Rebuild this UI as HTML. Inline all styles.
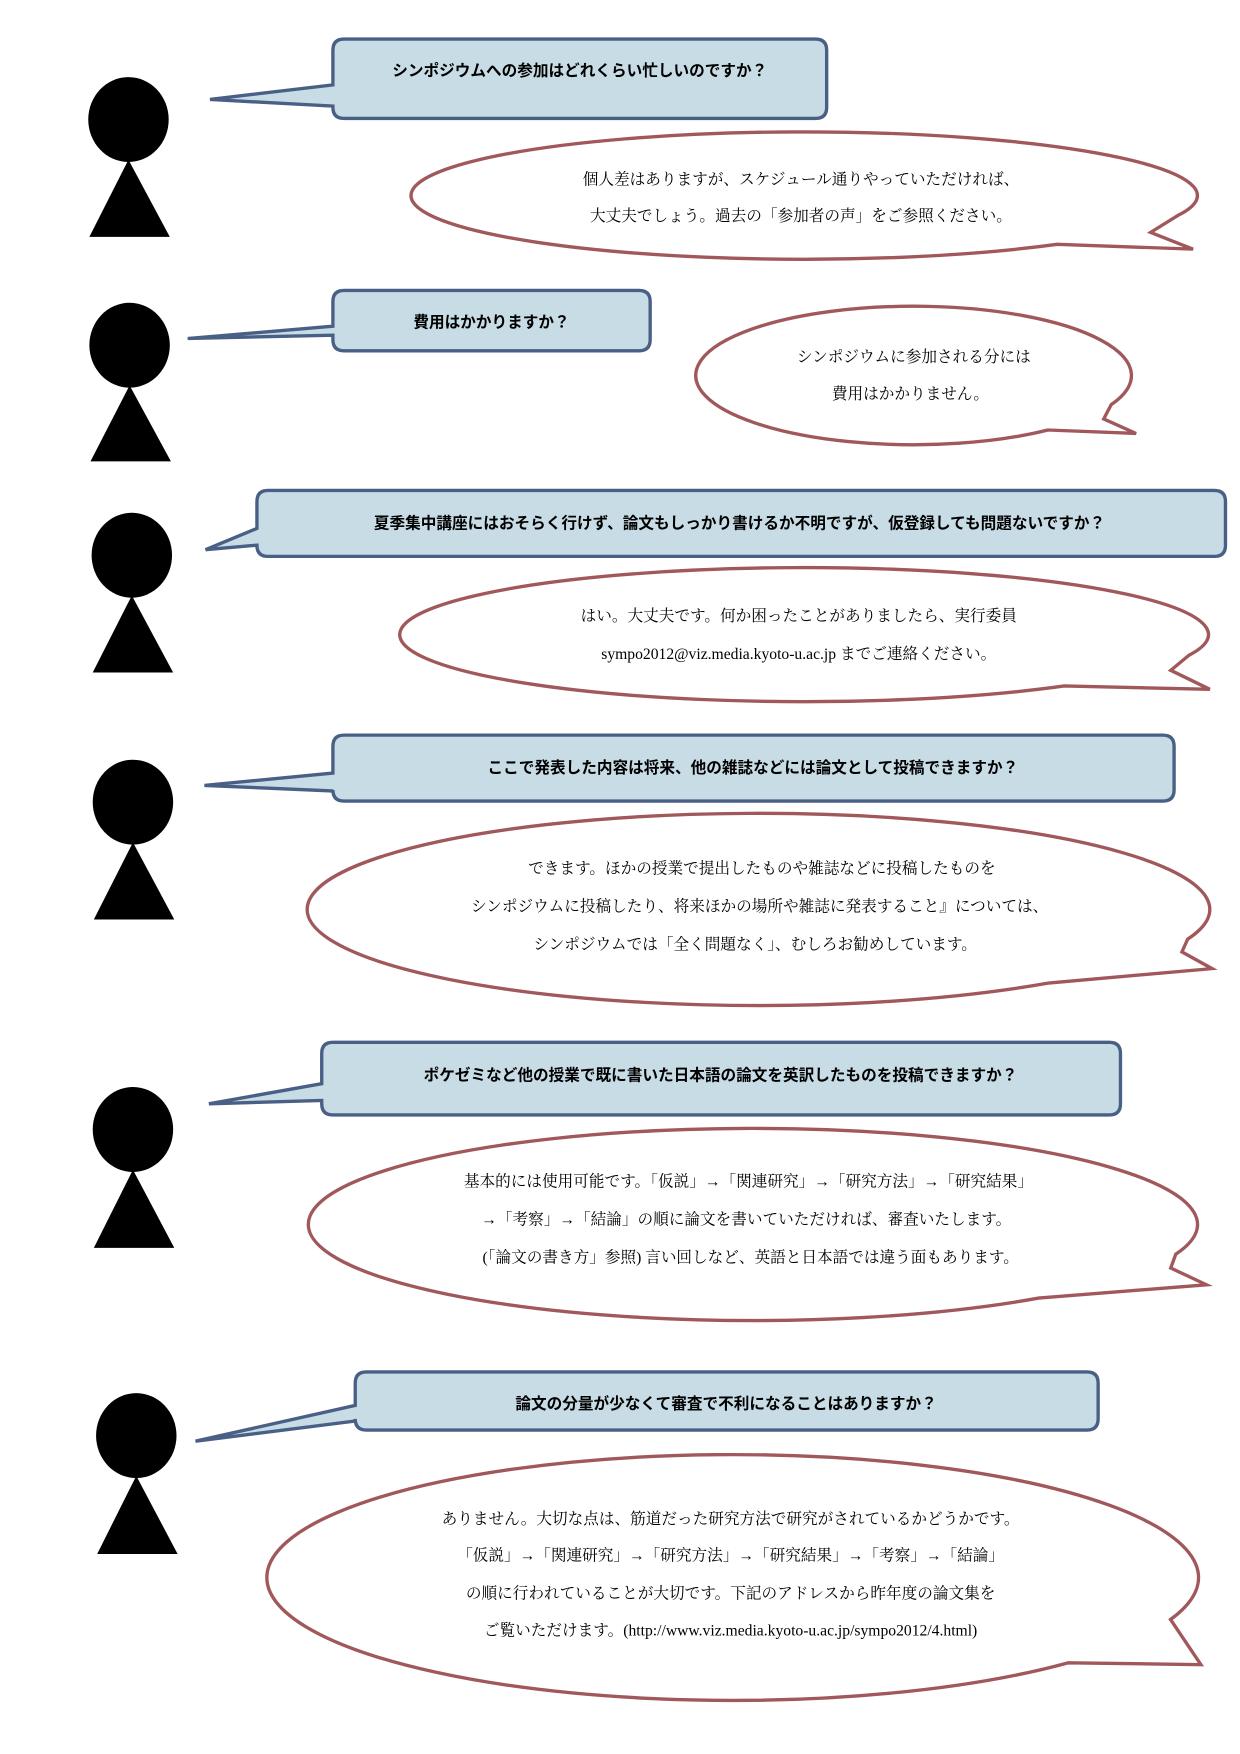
<!DOCTYPE html>
<html><head><meta charset="utf-8"><style>
html,body{margin:0;padding:0;background:#fff;}
svg{display:block;}
.q{font-family:"Liberation Sans","Noto Sans CJK JP",sans-serif;font-weight:bold;font-size:14px;fill:#000;text-anchor:middle;}
.a{font-family:"Liberation Serif","Noto Serif CJK SC",serif;font-size:14px;fill:#000;text-anchor:middle;}
.box{fill:#c8dce6;stroke:#4a5f85;stroke-width:3;}
.ell{fill:#fff;stroke:#a0585a;stroke-width:3;stroke-linejoin:miter;}
</style></head><body>
<svg width="1240" height="1754" viewBox="0 0 1110 1570" preserveAspectRatio="none" xmlns="http://www.w3.org/2000/svg">
<g fill="#000">
<ellipse cx="115" cy="107" rx="36" ry="38"/><polygon points="115,143 80,212 152,212"/>
<ellipse cx="116" cy="309" rx="36" ry="38"/><polygon points="116,345 81,413 153,413"/>
<ellipse cx="118" cy="497" rx="36" ry="38"/><polygon points="118,533 83,602 155,602"/>
<ellipse cx="119" cy="718" rx="36" ry="38"/><polygon points="119,754 84,823 156,823"/>
<ellipse cx="119" cy="1011" rx="36" ry="38"/><polygon points="119,1047 84,1117 156,1117"/>
<ellipse cx="122" cy="1285" rx="36" ry="38"/><polygon points="122,1321 87,1391 159,1391"/>
</g>

<path class="box" d="M308,35 H730 Q740,35 740,45 V96 Q740,106 730,106 H308 Q298,106 298,96 V95 L188,89 L298,76 V45 Q298,35 308,35 Z"/>
<text class="q" x="519" y="68">シンポジウムへの参加はどれくらい忙しいのですか？</text>
<path class="ell" d="M1054.8,192.6 L1030,208 L1068,223 L946.3,218.7 A352 57 0 1 1 1054.8,192.6 Z"/>
<text class="a" x="717" y="165">個人差はありますが、スケジュール通りやっていただければ、</text>
<text class="a" x="717" y="198">大丈夫でしょう。過去の「参加者の声」をご参照ください。</text>

<path class="box" d="M308,260 H572 Q582,260 582,270 V304 Q582,314 572,314 H308 Q298,314 298,304 V300 L168,303 L298,292 V270 Q298,260 308,260 Z"/>
<text class="q" x="440" y="293">費用はかかりますか？</text>
<path class="ell" d="M994.7,362.2 L988,375 L1017,388 L938.1,384.9 A195 62 0 1 1 994.7,362.2 Z"/>
<text class="a" x="818" y="324">シンポジウムに参加される分には</text>
<text class="a" x="815" y="357">費用はかかりません。</text>

<path class="box" d="M240,439 H1087 Q1097,439 1097,449 V488 Q1097,498 1087,498 H240 Q230,498 230,488 L184,492 L230,473 V449 Q230,439 240,439 Z"/>
<text class="q" x="662" y="473">夏季集中講座にはおそらく行けず、論文もしっかり書けるか不明ですが、仮登録しても問題ないですか？</text>
<path class="ell" d="M1064.3,586.5 L1048,600 L1083,617 L952.7,614 A362 60 0 1 1 1064.3,586.5 Z"/>
<text class="a" x="715" y="556">はい。大丈夫です。何か困ったことがありましたら、実行委員</text>
<text class="a" x="715" y="590">sympo2012@viz.media.kyoto-u.ac.jp までご連絡ください。</text>

<path class="box" d="M308,658 H1041 Q1051,658 1051,668 V707 Q1051,717 1041,717 H308 Q298,717 298,707 V708 L183,703 L298,692 V668 Q298,658 308,658 Z"/>
<text class="q" x="674" y="692">ここで発表した内容は将来、他の雑誌などには論文として投稿できますか？</text>
<path class="ell" d="M1063.2,840.6 L1058,852 L1085,867 L938.7,879.9 A404 86 0 1 1 1063.2,840.6 Z"/>
<text class="a" x="682" y="782">できます。ほかの授業で提出したものや雑誌などに投稿したものを</text>
<text class="a" x="680" y="816">シンポジウムに投稿したり、将来ほかの場所や雑誌に発表すること』については、</text>
<text class="a" x="676" y="850">シンポジウムでは「全く問題なく」、むしろお勧めしています。</text>

<path class="box" d="M298,933 H993 Q1003,933 1003,943 V988 Q1003,998 993,998 H298 Q288,998 288,988 V985 L187,988 L288,970 V943 Q288,933 298,933 Z"/>
<text class="q" x="645" y="967">ポケゼミなど他の授業で既に書いた日本語の論文を英訳したものを投稿できますか？</text>
<path class="ell" d="M1052.5,1122.6 L1048,1135 L1080,1150 L929.8,1161.9 A398 86 0 1 1 1052.5,1122.6 Z"/>
<text class="a" x="670" y="1062">基本的には使用可能です。「仮説」→「関連研究」→「研究方法」→「研究結果」</text>
<text class="a" x="668" y="1096">→「考察」→「結論」の順に論文を書いていただければ、審査いたします。</text>
<text class="a" x="672" y="1130">(「論文の書き方」参照) 言い回しなど、英語と日本語では違う面もあります。</text>

<path class="box" d="M328,1228 H973 Q983,1228 983,1238 V1270 Q983,1280 973,1280 H328 Q318,1280 318,1270 V1272 L175,1290 L318,1258 V1238 Q318,1228 328,1228 Z"/>
<text class="q" x="650" y="1261">論文の分量が少なくて審査で不利になることはありますか？</text>
<path class="ell" d="M1047.8,1449.6 L1075,1490 L956,1488.4 A417 110 0 1 1 1047.8,1449.6 Z"/>
<text class="a" x="654" y="1364">ありません。大切な点は、筋道だった研究方法で研究がされているかどうかです。</text>
<text class="a" x="654" y="1397">「仮説」→「関連研究」→「研究方法」→「研究結果」→「考察」→「結論」</text>
<text class="a" x="654" y="1431">の順に行われていることが大切です。下記のアドレスから昨年度の論文集を</text>
<text class="a" x="654" y="1464">ご覧いただけます。(http://www.viz.media.kyoto-u.ac.jp/sympo2012/4.html)</text>
</svg>
</body></html>
